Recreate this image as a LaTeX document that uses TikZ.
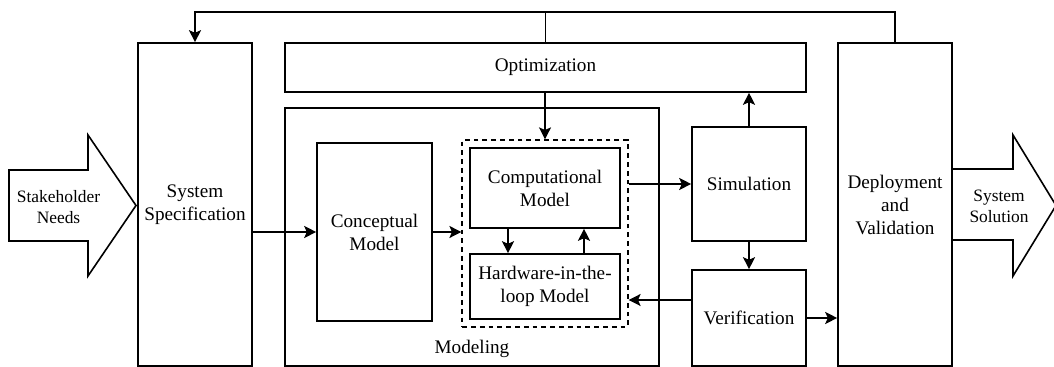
\documentclass[tikz,border=0pt]{standalone}
\usepackage{fontspec}
\setmainfont{Liberation Serif}
\usetikzlibrary{arrows.meta,fit}

\begin{document}
\begin{tikzpicture}[x=0.5pt,y=-0.5pt,
  font=\fontsize{9.6}{11.5}\selectfont,
  every node/.style={align=center},
  blk/.style={draw,line width=0.8pt,inner sep=0pt},
  ln/.style={line width=0.8pt},
  small/.style={font=\fontsize{8.7}{10.5}\selectfont},
  arr/.style={ln,-{Stealth[length=6pt,width=6pt,inset=1.3pt]}}]

  \useasboundingbox (0,0) rectangle (1054,367);

  % IN AND OUT
  \draw[ln] (9,170) -- (88,170) -- (88,135) -- (136,205.5) -- (88,276) -- (88,241) -- (9,241) -- cycle;
  \node[small] (Needs) at (58.5,207) {Stakeholder\\Needs};
  \draw[ln] (952,169) -- (1013,169) -- (1013,135) -- (1056,205.5) -- (1013,276) -- (1013,240) -- (952,240);
  \node[small] (Solution) at (999,206) {System\\Solution};

  % BLOCKS
  \node[blk,minimum width=57pt,minimum height=161.5pt] (SysSpec) at (195,204.5) {System\\Specification};
  \node[blk,minimum width=260.5pt,minimum height=24.5pt] (Opt) at (545.5,67.5) {Optimization};
  \node[blk,minimum width=187pt,minimum height=129pt] (Modeling) at (472,237) {};
  \node[anchor=base] (ModLabel) at (472,354) {Modeling};
  \node[blk,minimum width=57.5pt,minimum height=89pt] (ConcMod) at (374.5,232) {Conceptual\\Model};
  \node[blk,minimum width=75pt,minimum height=40pt] (CompMod) at (545,188) {Computational\\Model};
  \node[blk,minimum width=75pt,minimum height=32.5pt] (HILMod) at (545,286.5) {Hardware-in-the-\\loop Model};
  \node[draw,line width=0.8pt,dash pattern=on 2.4pt off 2pt,fit=(CompMod)(HILMod),inner sep=3.5pt] (Group) {};
  \node[blk,minimum width=57pt,minimum height=57pt] (Sim) at (749,184) {Simulation};
  \node[blk,minimum width=57pt,minimum height=48pt] (Verif) at (749,318) {Verification};
  \node[blk,minimum width=57pt,minimum height=161.5pt] (DeplVal) at (895,204.5) {Deployment\\and\\Validation};

  % FLOW
  \draw[arr] (SysSpec.east |- ConcMod) -- (ConcMod.west);
  \draw[arr] (ConcMod.east) -- (ConcMod.east -| Group.west);
  \draw[arr] (Opt.south -| Group.north) -- (Group.north);
  \draw[arr] ([xshift=-18.5pt]CompMod.south) -- ([xshift=-18.5pt]HILMod.north);
  \draw[arr] ([xshift=19.5pt]HILMod.north) -- ([xshift=19.5pt]CompMod.south);
  \draw[arr] (Group.east |- Sim) -- (Sim.west);
  \draw[arr] (Sim.north) -- (Sim.north |- Opt.south);
  \draw[arr] (Sim.south) -- (Verif.north);
  \draw[arr] ([yshift=9pt]Verif.west) -- ([yshift=9pt]Verif.west -| Group.east);
  \draw[arr] (Verif.east) -- (Verif.east -| DeplVal.west);

  % FEEDBACK
  \coordinate (Top) at (545,12);
  \draw[ln] (Opt.north) -- (Opt.north |- Top);
  \draw[arr] (DeplVal.north) |- (Top) -| (SysSpec.north);
\end{tikzpicture}
\end{document}
